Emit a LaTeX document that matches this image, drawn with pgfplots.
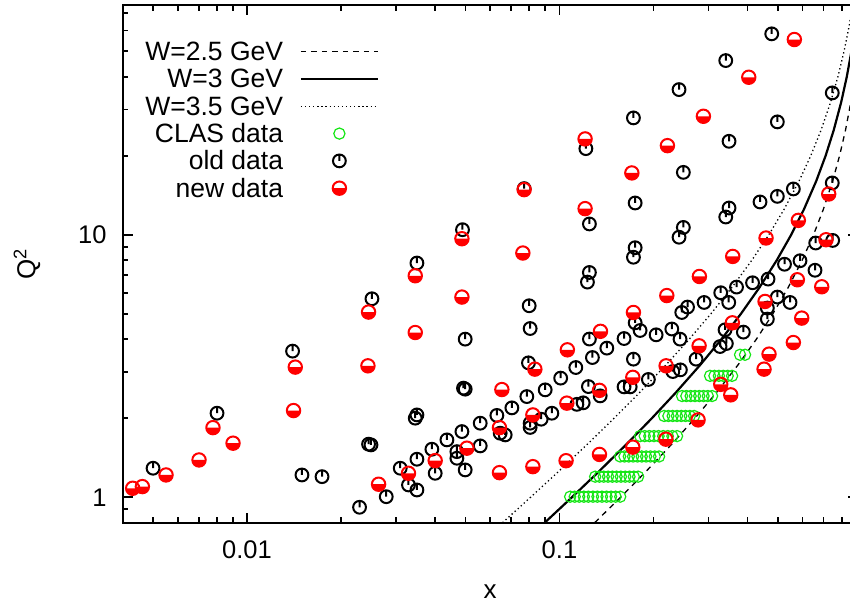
\documentclass[border=0pt]{standalone}
\usepackage{pgfplots}
\pgfplotsset{compat=1.18}
\usepackage{pgfplotstable}
\usepackage{fontspec}
\setmainfont{Liberation Sans}
\definecolor{clasgreen}{RGB}{20,230,20}
\definecolor{newred}{RGB}{255,0,0}

\pgfdeclareplotmark{oldmark}{%
  \pgfpathcircle{\pgfpointorigin}{6.4bp}%
  \pgfpathmoveto{\pgfpointorigin}%
  \pgfpathlineto{\pgfqpoint{0bp}{6.4bp}}%
  \pgfusepathqstroke}
\pgfdeclareplotmark{newmark}{%
  \pgfpathmoveto{\pgfqpoint{-6.7bp}{0bp}}%
  \pgfpatharc{180}{360}{6.7bp}%
  \pgfpathclose
  \pgfusepathqfill
  \pgfpathcircle{\pgfpointorigin}{6.7bp}%
  \pgfusepathqstroke}
\pgfdeclareplotmark{clasmark}{%
  \pgfpathcircle{\pgfpointorigin}{5.6bp}%
  \pgfusepathqstroke}

\pgfplotsset{
  linelegend/.style={legend image code/.code={\draw[##1] (0bp,0bp) -- (77bp,0bp);}},
  marklegend/.style={legend image code/.code={\draw[##1] plot coordinates {(38.5bp,0bp)};}},
}

\pgfplotstableread{
x y
0.005003 1.290
0.008017 2.090
0.01399 3.603
0.01499 1.216
0.01738 1.198
0.02292 0.916
0.02449 1.593
0.02493 1.583
0.02511 5.702
0.02790 1.005
0.03093 1.290
0.03287 1.114
0.03498 1.066
0.03498 7.801
0.03498 2.059
0.03455 2.001
0.03498 1.396
0.03906 1.524
0.04002 1.234
0.04363 1.654
0.04873 1.779
0.04696 1.492
0.04696 1.408
0.04992 1.271
0.04894 10.45
0.04992 4.002
0.04930 2.604
0.04992 2.581
0.05577 1.569
0.05577 1.915
0.06305 2.050
0.06461 1.754
0.06704 1.728
0.07043 2.190
0.07864 2.418
0.08057 1.915
0.08057 1.845
0.08739 1.983
0.09456 2.090
0.09001 2.565
0.1009 2.843
0.1137 2.259
0.1191 2.289
0.1238 2.640
0.1350 2.433
0.1128 3.120
0.1275 3.406
0.1247 4.005
0.1418 3.699
0.07959 3.251
0.0800 5.363
0.08057 4.393
0.07710 14.98
0.1215 21.28
0.1247 10.99
0.1229 6.601
0.1247 7.182
0.1725 27.86
0.1747 13.21
0.1747 8.922
0.1725 8.208
0.1747 4.618
0.1812 4.317
0.1610 4.023
0.2039 4.156
0.2289 4.374
0.2432 4.002
0.2463 5.056
0.2570 5.302
0.2904 5.521
0.3283 6.011
0.3482 5.521
0.1725 3.358
0.1926 2.810
0.1610 2.633
0.1684 2.633
0.2306 3.012
0.2438 3.057
0.2737 3.358
0.3266 3.751
0.3421 3.851
0.3389 4.343
0.3878 4.256
0.2414 35.71
0.2492 17.28
0.2492 10.66
0.2414 9.783
0.3406 46.06
0.3490 22.69
0.3490 12.64
0.3406 11.68
0.4780 58.23
0.4982 26.90
0.4385 13.33
0.4982 14.00
0.5606 14.94
0.7469 34.69
0.7469 15.75
0.7491 9.512
0.6610 9.298
0.5888 7.960
0.5252 7.719
0.6576 7.322
0.4652 6.777
0.4150 6.562
0.3688 6.318
0.4982 5.788
0.5470 5.521
0.4628 5.256
0.4628 4.771
}\olddata

\pgfplotstableread{
x y
0.004306 1.082
0.004624 1.098
0.005506 1.216
0.007022 1.387
0.007782 1.842
0.009021 1.607
0.01409 2.139
0.01427 3.131
0.02449 5.074
0.02438 3.167
0.02637 1.121
0.03287 1.234
0.03455 6.977
0.03455 4.241
0.04002 1.379
0.04873 9.655
0.04873 5.788
0.05055 1.538
0.06427 1.842
0.06427 1.241
0.06542 2.572
0.07637 8.516
0.07710 14.85
0.08220 2.059
0.08342 3.076
0.08220 1.308
0.1056 2.283
0.1060 3.644
0.1050 1.378
0.1208 23.17
0.1208 12.57
0.1343 2.554
0.1353 4.286
0.1343 1.456
0.1705 17.19
0.1725 5.056
0.1717 2.863
0.1717 1.552
0.2206 5.865
0.2195 3.167
0.2191 1.664
0.2216 21.84
0.2799 3.774
0.2805 6.934
0.2778 1.971
0.2889 28.26
0.3283 2.692
0.3534 2.455
0.3576 4.618
0.3586 8.266
0.4036 39.79
0.4584 9.715
0.4550 5.570
0.4517 3.076
0.4686 3.509
0.5606 3.885
0.5773 6.736
0.5815 11.34
0.5647 55.40
0.5963 4.813
0.6910 6.335
0.7132 9.571
0.7275 14.29
}\newdata

\pgfplotstableread{
x y
0.1082 1.005
0.1119 1.005
0.1157 1.005
0.1197 1.005
0.1237 1.005
0.1280 1.005
0.1323 1.005
0.1368 1.005
0.1415 1.005
0.1463 1.005
0.1513 1.005
0.1565 1.005
0.1301 1.198
0.1343 1.198
0.1386 1.198
0.1431 1.198
0.1477 1.198
0.1524 1.198
0.1573 1.198
0.1624 1.198
0.1676 1.198
0.1730 1.198
0.1786 1.198
0.1564 1.43
0.1615 1.43
0.1667 1.43
0.1721 1.43
0.1777 1.43
0.1834 1.43
0.1894 1.43
0.1955 1.43
0.2019 1.43
0.2084 1.43
0.1812 1.71
0.1875 1.71
0.1940 1.71
0.2007 1.71
0.2076 1.71
0.2148 1.71
0.2222 1.71
0.2299 1.71
0.2379 1.71
0.2163 2.04
0.2232 2.04
0.2304 2.04
0.2378 2.04
0.2454 2.04
0.2533 2.04
0.2614 2.04
0.2698 2.04
0.2469 2.43
0.2548 2.43
0.2630 2.43
0.2715 2.43
0.2802 2.43
0.2892 2.43
0.2985 2.43
0.3080 2.43
0.3034 2.90
0.3134 2.90
0.3238 2.90
0.3345 2.90
0.3455 2.90
0.3569 2.90
0.3785 3.49
0.3927 3.49
}\clasdata

\begin{document}
\begin{tikzpicture}
\begin{axis}[
  at={(122.7bp,81.3bp)}, anchor=south west,
  scale only axis, width=734.9bp, height=517.7bp,
  xmode=log, ymode=log,
  xmin=0.004, xmax=0.9, ymin=0.8, ymax=75,
  xtick={0.01,0.1}, xticklabels={0.01,0.1},
  ytick={1,10}, yticklabels={1,10},
  minor xtick={0.005,0.006,0.007,0.008,0.009,0.02,0.03,0.04,0.05,0.06,0.07,0.08,0.09,0.2,0.3,0.4,0.5,0.6,0.7,0.8},
  minor ytick={0.9,2,3,4,5,6,7,8,9,20,30,40,50,60,70},
  tick align=inside,
  major tick length=10bp, minor tick length=5.7bp,
  tick style={black, line width=1.8bp},
  axis line style={line width=2bp},
  /pgf/number format/assume math mode=true,
  tick label style={font=\fontsize{25.5bp}{30bp}\selectfont, inner sep=0pt},
  xticklabel style={anchor=center, yshift=-27.3bp},
  yticklabel style={anchor=east, xshift=-16bp},
  xlabel={x}, ylabel={Q\textsuperscript{2}},
  every axis x label/.style={at={(axis description cs:0.5,-0.13386)}, anchor=center, font=\fontsize{26bp}{30bp}\selectfont},
  every axis y label/.style={at={(axis description cs:-0.13022,0.5)}, anchor=center, rotate=90, font=\fontsize{26bp}{30bp}\selectfont},
  legend cell align=right,
  legend plot pos=right,
  legend style={draw=none, fill=none, inner sep=0pt, outer sep=0pt,
    row sep=0pt, column sep=16.7bp,
    at={(axis description cs:0.34876,0.93616)}, anchor=north east,
    font=\fontsize{26.5bp}{30bp}\selectfont,
    nodes={inner sep=0pt, text height=22.55bp, text depth=4.75bp}},
]
\addplot[black, line width=1.3bp, dash pattern=on 5.5bp off 5bp, linelegend] coordinates {
(0.12966,0.8) (0.15699,1) (0.18882,1.25) (0.22956,1.6) (0.27137,2) (0.31766,2.5)
(0.37340,3.2) (0.42689,4) (0.48216,5) (0.53985,6.3) (0.59835,8) (0.65062,10)
(0.69950,12.5) (0.74871,16) (0.78833,20) (0.82318,25) (0.85630,32) (0.88164,40)
(0.90302,50) (0.92146,63) (0.93710,80)};
\addlegendentry{W=2.5 GeV}
\addplot[black, line width=2.2bp, linelegend] coordinates {
(0.08969,0.8) (0.10965,1) (0.13340,1.25) (0.16461,1.6) (0.19763,2) (0.23540,2.5)
(0.28269,3.2) (0.33003,4) (0.38110,5) (0.43689,6.3) (0.49628,8) (0.55188,10)
(0.60621,12.5) (0.66335,16) (0.71124,20) (0.75483,25) (0.79761,32) (0.83126,40)
(0.86029,50) (0.88583,63) (0.90785,80)};
\addlegendentry{W=3 GeV}
\addplot[black, line width=1.3bp, dash pattern=on 1.3bp off 2.8bp, linelegend] coordinates {
(0.06574,0.8) (0.08084,1) (0.09905,1.25) (0.12336,1.6) (0.14959,2) (0.18025,2.5)
(0.21963,3.2) (0.26025,4) (0.30544,5) (0.35654,6.3) (0.41301,8) (0.46795,10)
(0.52367,12.5) (0.58458,16) (0.63755,20) (0.68738,25) (0.73784,32) (0.77867,40)
(0.81473,50) (0.84712,63) (0.87556,80)};
\addlegendentry{W=3.5 GeV}
\addplot[clasgreen, only marks, mark=clasmark, mark options={line width=1.2bp}, marklegend] table {\clasdata};
\addlegendentry{CLAS data}
\addplot[black, only marks, mark=oldmark, mark options={line width=2bp}, marklegend] table {\olddata};
\addlegendentry{old data}
\addplot[newred, only marks, mark=newmark, mark options={line width=2bp}, marklegend] table {\newdata};
\addlegendentry{new data}
\end{axis}
\pgfresetboundingbox
\useasboundingbox (0,0) rectangle (850bp,604bp);
\end{tikzpicture}
\end{document}
